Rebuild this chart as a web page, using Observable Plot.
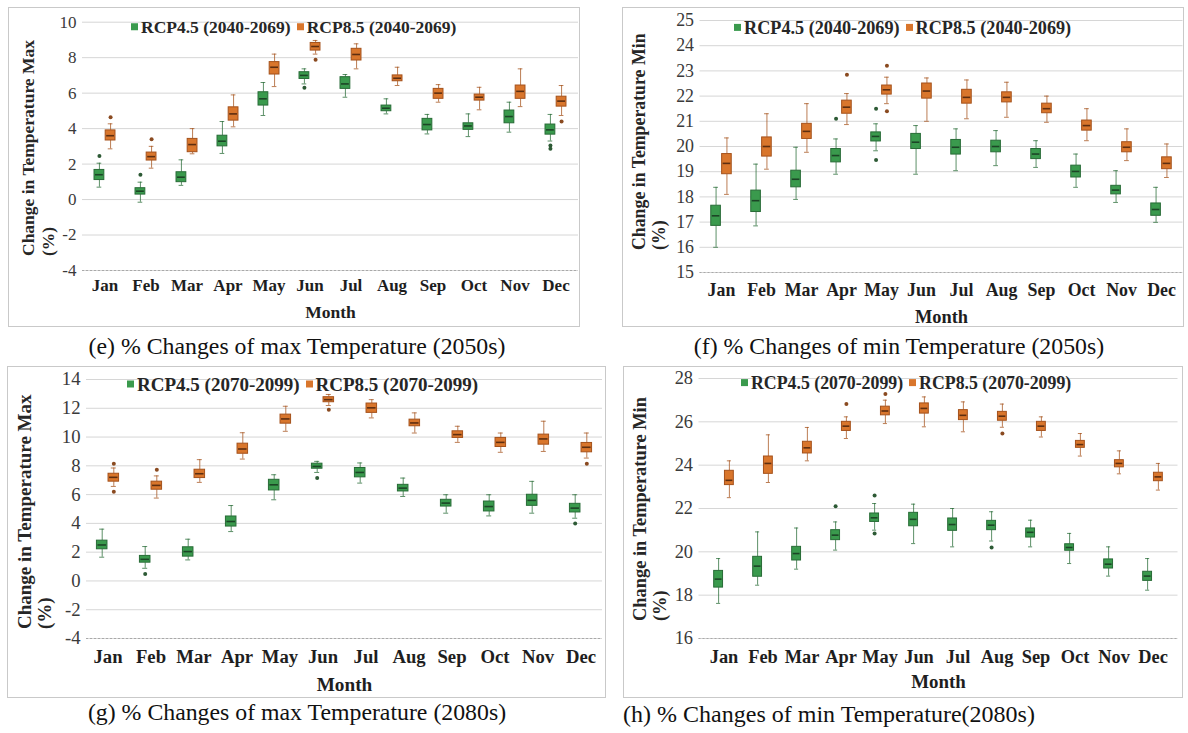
<!DOCTYPE html>
<html><head><meta charset="utf-8">
<script src="https://cdn.jsdelivr.net/npm/d3@7"></script>
<script src="https://cdn.jsdelivr.net/npm/@observablehq/plot@0.6"></script>
<style>
body{margin:0;background:#fff;width:1188px;height:733px;position:relative;overflow:hidden;font-family:"Liberation Serif","Times New Roman","DejaVu Serif",serif;}
.frame{position:absolute;border:1.5px solid #c9c9c9;box-sizing:border-box;}
.plot{position:absolute;}
.cap{position:absolute;white-space:nowrap;transform:translate(-50%,-50%);color:#111;line-height:1;}
.ytitle{position:absolute;transform-origin:0 0;transform:rotate(-90deg);font-weight:bold;white-space:pre;color:#262626;}
.legend{position:absolute;white-space:nowrap;font-weight:bold;color:#262626;transform:translateY(-50%);line-height:1;}
.legend .sq{display:inline-block;width:7px;height:7px;margin-right:3px;vertical-align:middle;position:relative;top:-2px;}
.legend .item{margin-right:6px;}
</style>
</head><body>
<script>
const FONT = "'Liberation Serif', 'Times New Roman', 'DejaVu Serif', serif";
const months = ["Jan","Feb","Mar","Apr","May","Jun","Jul","Aug","Sep","Oct","Nov","Dec"];
const seriesNames = ["RCP4.5", "RCP8.5"];

// (e) max temperature, 2050s
const eR45Low  = [0.7,-0.15,0.8,2.6,4.74,6.52,5.77,4.83,3.7,3.55,3.8,3.3];
const eR45Q1   = [1.1,0.28,0.98,3.0,5.3,6.8,6.24,4.98,3.9,3.93,4.3,3.66];
const eR45Med  = [1.4,0.47,1.26,3.29,5.68,7.0,6.52,5.15,4.23,4.15,4.68,3.93];
const eR45Q3   = [1.67,0.64,1.54,3.6,6.05,7.18,6.9,5.3,4.55,4.3,5.02,4.23];
const eR45High = [2.05,0.98,2.24,4.4,6.6,7.37,7.05,5.68,4.8,4.83,5.49,4.8];
const eR45OutMonth = ["Jan","Feb","Jun","Dec","Dec"];
const eR45OutValue = [2.45,1.4,6.3,3.05,2.86];
const eR85Low  = [2.86,1.77,2.58,4.1,6.37,8.2,7.37,6.43,5.49,5.06,5.24,4.74];
const eR85Q1   = [3.33,2.2,2.67,4.45,7.05,8.4,7.84,6.67,5.68,5.58,5.68,5.24];
const eR85Med  = [3.6,2.42,3.1,4.83,7.46,8.63,8.18,6.84,6.0,5.77,6.1,5.55];
const eR85Q3   = [3.9,2.65,3.42,5.2,7.75,8.83,8.5,7.0,6.24,5.92,6.43,5.8];
const eR85High = [4.27,3.0,4.0,5.9,8.2,8.97,8.78,7.46,6.48,6.33,7.37,6.43];
const eR85OutMonth = ["Jan","Feb","Jun","Dec"];
const eR85OutValue = [4.64,3.4,7.88,4.4];
const eTicks = [-4,-2,0,2,4,6,8,10];

// (f) min temperature, 2050s
const fR45Low  = [16.0,16.85,17.9,18.9,19.83,18.9,19.04,19.24,19.17,18.38,17.78,16.99];
const fR45Q1   = [16.85,17.4,18.38,19.37,20.2,19.9,19.68,19.77,19.5,18.77,18.1,17.25];
const fR45Med  = [17.25,17.85,18.7,19.64,20.4,20.17,19.97,20.0,19.7,19.01,18.27,17.5];
const fR45Q3   = [17.65,18.25,19.04,19.9,20.56,20.5,20.26,20.23,19.9,19.24,18.44,17.74];
const fR45High = [18.38,19.3,19.97,20.3,20.9,20.83,20.7,20.63,20.23,19.7,19.04,18.38];
const fR45OutMonth = ["Apr","May","May"];
const fR45OutValue = [21.1,21.5,19.46];
const fR85Low  = [18.1,19.1,19.77,20.87,21.7,21.0,21.1,21.16,20.96,20.23,19.44,18.77];
const fR85Q1   = [18.9,19.6,20.3,21.3,22.06,21.9,21.7,21.75,21.32,20.63,19.77,19.1];
const fR85Med  = [19.33,20.0,20.6,21.56,22.25,22.2,21.95,21.95,21.5,20.83,19.97,19.33];
const fR85Q3   = [19.7,20.36,20.9,21.82,22.42,22.5,22.25,22.15,21.7,21.03,20.17,19.57];
const fR85High = [20.34,21.3,21.7,22.1,22.75,22.72,22.64,22.55,22.0,21.5,20.7,20.1];
const fR85OutMonth = ["Apr","May","May"];
const fR85OutValue = [22.85,23.2,21.4];
const fTicks = [15,16,17,18,19,20,21,22,23,24,25];

// (g) max temperature, 2080s
const gR45Low  = [1.65,0.88,1.46,3.43,5.64,7.54,6.8,5.87,4.71,4.52,4.71,4.36];
const gR45Q1   = [2.2,1.27,1.69,3.78,6.29,7.8,7.2,6.22,5.17,4.83,5.22,4.76];
const gR45Med  = [2.5,1.5,2.04,4.13,6.68,7.96,7.54,6.45,5.41,5.17,5.6,5.06];
const gR45Q3   = [2.8,1.74,2.34,4.48,7.03,8.15,7.85,6.68,5.64,5.52,5.99,5.36];
const gR45High = [3.6,2.39,2.9,5.24,7.38,8.31,8.2,7.15,5.99,5.99,6.92,5.99];
const gR45OutMonth = ["Feb","Jun","Dec"];
const gR45OutValue = [0.48,7.15,4.0];
const gR85Low  = [6.57,5.76,6.85,8.47,10.4,12.19,11.33,10.28,9.63,8.94,9.0,8.54];
const gR85Q1   = [6.9,6.34,7.15,8.84,10.93,12.42,11.68,10.75,9.94,9.31,9.47,8.94];
const gR85Med  = [7.2,6.64,7.45,9.17,11.26,12.6,12.03,10.98,10.17,9.63,9.87,9.29];
const gR85Q3   = [7.45,6.9,7.73,9.54,11.56,12.77,12.33,11.21,10.4,9.94,10.17,9.59];
const gR85High = [7.85,7.3,8.43,10.3,12.14,12.96,12.6,11.68,10.75,10.28,11.1,10.28];
const gR85OutMonth = ["Jan","Jan","Feb","Jun","Dec"];
const gR85OutValue = [8.15,6.2,7.73,11.9,8.15];
const gTicks = [-4,-2,0,2,4,6,8,10,12,14];

// (h) min temperature, 2080s
const hR45Low  = [17.62,18.46,19.2,20.08,21.0,20.38,20.23,20.5,20.23,19.46,18.88,18.23];
const hR45Q1   = [18.35,18.85,19.6,20.54,21.38,21.18,20.97,21.0,20.66,20.05,19.23,18.66];
const hR45Med  = [18.74,19.34,19.92,20.77,21.57,21.5,21.26,21.23,20.9,20.2,19.43,18.88];
const hR45Q3   = [19.12,19.77,20.23,21.0,21.77,21.8,21.54,21.43,21.08,20.35,19.65,19.08];
const hR45High = [19.69,20.92,21.1,21.38,22.23,22.2,22.0,21.85,21.46,20.85,20.23,19.69];
const hR45OutMonth = ["Apr","May","May","Aug"];
const hR45OutValue = [22.1,22.6,20.85,20.2];
const hR85Low  = [22.5,23.2,24.2,25.23,25.92,25.77,25.54,25.75,25.3,24.42,23.6,22.85];
const hR85Q1   = [23.08,23.6,24.54,25.58,26.3,26.38,26.08,26.05,25.58,24.8,23.9,23.26];
const hR85Med  = [23.3,24.08,24.8,25.8,26.5,26.62,26.3,26.26,25.8,24.95,24.08,23.46];
const hR85Q3   = [23.74,24.4,25.08,26.0,26.7,26.85,26.54,26.46,26.0,25.12,24.23,23.65];
const hR85High = [24.2,25.4,25.74,26.23,27.0,27.15,26.92,26.82,26.23,25.46,24.66,24.08];
const hR85OutMonth = ["Apr","May","Aug"];
const hR85OutValue = [26.82,27.28,25.46];
const hTicks = [16,18,20,22,24,26,28];

const colors = {
  "RCP4.5": {fill: "#3a9a4d", stroke: "#276b36", med: "#1c4526", out: "#2d5a35"},
  "RCP8.5": {fill: "#d9762c", stroke: "#a4511b", med: "#5e2e10", out: "#8a4a20"}
};

function rowsOf(series, lo, q1, med, q3, hi) {
  return months.map((m, i) => ({month: m, series, low: lo[i], q1: q1[i], med: med[i], q3: q3[i], high: hi[i]}));
}
function outsOf(series, ms, vs) {
  return ms.map((m, i) => ({month: m, series, value: vs[i]}));
}

const panels = [
  {frame: [8, 7, 572, 320], m: [14.7, 2, 57, 74], s: 1.0,
   domain: [-4, 10], ticks: eTicks, tickPad: 8, monthDy: 42,
   r45: rowsOf("RCP4.5", eR45Low, eR45Q1, eR45Med, eR45Q3, eR45High),
   r85: rowsOf("RCP8.5", eR85Low, eR85Q1, eR85Med, eR85Q3, eR85High),
   o45: outsOf("RCP4.5", eR45OutMonth, eR45OutValue), o85: outsOf("RCP8.5", eR85OutMonth, eR85OutValue),
   period: "(2040-2069)", legend: [131, 28, 17.5],
   ytitle: "Change in Temperature Max\n(%)", yt: [18, 256, 17.5],
   caption: "(e) % Changes of max Temperature (2050s)", cap: [297, 347, 23.8]},
  {frame: [622, 7, 562, 320], m: [13, 1.5, 55, 77.5], s: 1.05,
   domain: [15, 25], ticks: fTicks, tickPad: 11, monthDy: 45,
   r45: rowsOf("RCP4.5", fR45Low, fR45Q1, fR45Med, fR45Q3, fR45High),
   r85: rowsOf("RCP8.5", fR85Low, fR85Q1, fR85Med, fR85Q3, fR85High),
   o45: outsOf("RCP4.5", fR45OutMonth, fR45OutValue), o85: outsOf("RCP8.5", fR85OutMonth, fR85OutValue),
   period: "(2040-2069)", legend: [734, 28, 18.2],
   ytitle: "Change in Temperature Min\n(%)", yt: [629, 250, 17.8],
   caption: "(f) % Changes of min Temperature (2050s)", cap: [899, 347, 23.8]},
  {frame: [7, 366, 599, 332], m: [13, 4, 60, 79], s: 1.1,
   domain: [-4, 14], ticks: gTicks, tickPad: 11, monthDy: 46,
   r45: rowsOf("RCP4.5", gR45Low, gR45Q1, gR45Med, gR45Q3, gR45High),
   r85: rowsOf("RCP8.5", gR85Low, gR85Q1, gR85Med, gR85Q3, gR85High),
   o45: outsOf("RCP4.5", gR45OutMonth, gR45OutValue), o85: outsOf("RCP8.5", gR85OutMonth, gR85OutValue),
   period: "(2070-2099)", legend: [127, 384, 19],
   ytitle: "Change in Temperature Max\n(%)", yt: [15, 629, 19],
   caption: "(g) % Changes of max Temperature (2080s)", cap: [297, 713, 23.8]},
  {frame: [623, 366, 560, 332], m: [12, 5.5, 60, 75.5], s: 1.08,
   domain: [16, 28], ticks: hTicks, tickPad: 11, monthDy: 43,
   r45: rowsOf("RCP4.5", hR45Low, hR45Q1, hR45Med, hR45Q3, hR45High),
   r85: rowsOf("RCP8.5", hR85Low, hR85Q1, hR85Med, hR85Q3, hR85High),
   o45: outsOf("RCP4.5", hR45OutMonth, hR45OutValue), o85: outsOf("RCP8.5", hR85OutMonth, hR85OutValue),
   period: "(2070-2099)", legend: [741, 384, 17.8],
   ytitle: "Change in Temperature Min\n(%)", yt: [630, 621, 18.4],
   caption: "(h) % Changes of min Temperature(2080s)", cap: [829, 714, 24]}
];

function seriesMarks(rows, outs, name, bw, side) {
  const c = colors[name];
  const off = 0.135 * bw, half = 0.1225 * bw, cap = 2.5;
  const dx = side * off;
  const ins = (w) => side < 0
    ? {insetLeft: bw / 2 - off - w, insetRight: bw / 2 + off - w}
    : {insetLeft: bw / 2 + off - w, insetRight: bw / 2 - off - w};
  return [
    Plot.ruleX(rows, {x: "month", y1: "low", y2: "q1", dx, stroke: c.stroke, strokeOpacity: 0.75, strokeWidth: 1}),
    Plot.ruleX(rows, {x: "month", y1: "q3", y2: "high", dx, stroke: c.stroke, strokeOpacity: 0.75, strokeWidth: 1}),
    Plot.tickY(rows, {x: "month", y: "low", ...ins(cap), stroke: c.stroke, strokeOpacity: 0.75}),
    Plot.tickY(rows, {x: "month", y: "high", ...ins(cap), stroke: c.stroke, strokeOpacity: 0.75}),
    Plot.barY(rows, {x: "month", y1: "q1", y2: "q3", ...ins(half), fill: c.fill, stroke: c.stroke, strokeWidth: 1}),
    Plot.tickY(rows, {x: "month", y: "med", ...ins(half - 1), stroke: c.med, strokeWidth: 1.6}),
    Plot.dot(outs, {x: "month", y: "value", dx, r: 2, fill: c.out, stroke: "none"})
  ];
}

for (const p of panels) {
  const [fx, fy, fw, fh] = p.frame;
  const [mt, mr, mb, ml] = p.m;
  const bw = (fw - ml - mr) / 12;
  const fs = 17 * p.s;

  const fr = document.createElement("div");
  fr.className = "frame";
  Object.assign(fr.style, {left: fx + "px", top: fy + "px", width: fw + "px", height: fh + "px"});
  document.body.appendChild(fr);

  const svg = Plot.plot({
    width: fw, height: fh,
    marginTop: mt, marginRight: mr, marginBottom: mb, marginLeft: ml,
    x: {type: "band", domain: months, padding: 0},
    y: {domain: p.domain},
    style: {fontFamily: FONT, fontSize: fs + "px", background: "transparent", overflow: "visible"},
    marks: [
      Plot.gridY(p.ticks, {stroke: "#d6d6d6", strokeOpacity: 1, strokeWidth: 1}),
      Plot.ruleY([p.domain[0]], {stroke: "#a9a9a9", strokeDasharray: "2,2", strokeWidth: 1.2}),
      Plot.axisY(p.ticks, {tickSize: 0, tickPadding: 6, fontSize: fs, fill: "#3a3a3a", label: null, tickFormat: d => String(d), fontFamily: FONT}),
      Plot.axisX({tickSize: 0, tickPadding: p.tickPad, fontSize: fs, fontWeight: "bold", fill: "#1e1e1e", label: null, fontFamily: FONT}),
      ...seriesMarks(p.r45, p.o45, "RCP4.5", bw, -1),
      ...seriesMarks(p.r85, p.o85, "RCP8.5", bw, 1),
      Plot.text(["Month"], {text: d => d, frameAnchor: "bottom", dy: p.monthDy, lineAnchor: "middle", fontWeight: "bold", fontSize: fs * 1.03, fill: "#1e1e1e", fontFamily: FONT})
    ]
  });
  svg.classList.add("plot");
  svg.style.left = fx + "px";
  svg.style.top = fy + "px";
  document.body.appendChild(svg);

  const lg = document.createElement("div");
  lg.className = "legend";
  Object.assign(lg.style, {left: p.legend[0] + "px", top: p.legend[1] + "px", fontSize: p.legend[2] + "px"});
  lg.innerHTML = seriesNames.map(n =>
    `<span class="item"><span class="sq" style="background:${colors[n].fill}"></span>${n} ${p.period}</span>`).join("");
  document.body.appendChild(lg);

  const yt = document.createElement("div");
  yt.className = "ytitle";
  yt.textContent = p.ytitle;
  Object.assign(yt.style, {left: p.yt[0] + "px", top: p.yt[1] + "px", fontSize: p.yt[2] + "px", lineHeight: "20px"});
  document.body.appendChild(yt);

  const cp = document.createElement("div");
  cp.className = "cap";
  cp.textContent = p.caption;
  Object.assign(cp.style, {left: p.cap[0] + "px", top: p.cap[1] + "px", fontSize: p.cap[2] + "px"});
  document.body.appendChild(cp);
}
</script>
</body></html>
